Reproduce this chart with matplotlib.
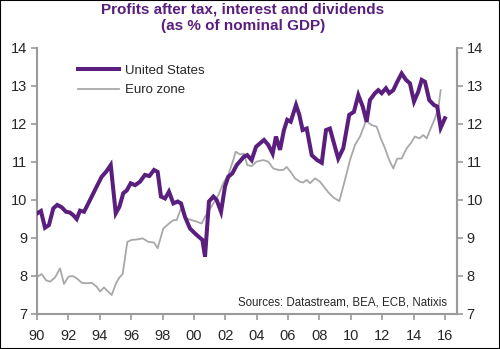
import matplotlib
matplotlib.use("Agg")
import matplotlib.pyplot as plt
from matplotlib.patches import Rectangle

plt.rcParams['font.family'] = ['Liberation Sans', 'DejaVu Sans']

# United States: profits after tax, interest and dividends (% of nominal GDP)
us_dates = [1990.02, 1990.25, 1990.51, 1990.76, 1991.04, 1991.29, 1991.57, 1991.85,
            1992.10, 1992.31, 1992.53, 1992.74, 1993.00, 1993.38, 1993.80, 1994.12,
            1994.40, 1994.70, 1995.02, 1995.25, 1995.50, 1995.72, 1995.97, 1996.25,
            1996.56, 1996.88, 1997.16, 1997.46, 1997.69, 1997.90, 1998.16, 1998.41,
            1998.69, 1998.97, 1999.18, 1999.43, 1999.75, 2000.07, 2000.34, 2000.54,
            2000.71, 2000.96, 2001.24, 2001.45, 2001.73, 2001.98, 2002.19, 2002.45,
            2002.73, 2002.94, 2003.19, 2003.40, 2003.68, 2003.96, 2004.21, 2004.47,
            2004.74, 2005.02, 2005.23, 2005.49, 2005.74, 2005.95, 2006.17, 2006.51,
            2006.72, 2006.93, 2007.19, 2007.51, 2007.86, 2008.15, 2008.42, 2008.67,
            2008.93, 2009.20, 2009.52, 2009.90, 2010.20, 2010.48, 2010.76, 2011.01,
            2011.22, 2011.54, 2011.75, 2011.97, 2012.24, 2012.45, 2012.71, 2012.96,
            2013.24, 2013.52, 2013.77, 2014.03, 2014.30, 2014.52, 2014.73, 2015.00,
            2015.30, 2015.51, 2015.73, 2016.00]
us_values = [9.65, 9.71, 9.27, 9.34, 9.78, 9.87, 9.81, 9.69,
             9.67, 9.60, 9.50, 9.72, 9.69, 10.00, 10.35, 10.61,
             10.74, 10.92, 9.65, 9.82, 10.18, 10.25, 10.44, 10.39,
             10.48, 10.66, 10.63, 10.79, 10.74, 10.09, 10.04, 10.22,
             9.91, 9.96, 9.91, 9.56, 9.25, 9.12, 9.02, 8.95,
             8.51, 9.96, 10.09, 10.00, 9.69, 10.35, 10.61, 10.70,
             10.92, 11.02, 11.14, 11.18, 11.05, 11.40, 11.49, 11.58,
             11.45, 11.22, 11.67, 11.32, 11.84, 12.11, 12.06, 12.50,
             12.24, 11.84, 11.88, 11.18, 11.05, 10.98, 11.84, 11.88,
             11.49, 11.09, 11.36, 12.24, 12.32, 12.76, 12.46, 12.06,
             12.63, 12.81, 12.89, 12.81, 12.94, 12.81, 12.89, 13.11,
             13.33, 13.16, 13.07, 12.59, 12.85, 13.16, 13.11, 12.63,
             12.50, 12.46, 11.90, 12.15]

# Euro zone
ez_dates = [1990.02, 1990.30, 1990.57, 1990.83, 1991.15, 1991.47, 1991.72, 1992.00,
            1992.28, 1992.53, 1992.85, 1993.17, 1993.49, 1993.80, 1994.02, 1994.27,
            1994.48, 1994.76, 1995.04, 1995.25, 1995.46, 1995.76, 1996.04, 1996.35,
            1996.74, 1997.09, 1997.46, 1997.69, 1998.05, 1998.41, 1998.69, 1998.90,
            1999.18, 1999.54, 1999.86, 2000.18, 2000.50, 2000.71, 2000.92, 2001.24,
            2001.56, 2001.87, 2002.19, 2002.51, 2002.66, 2002.94, 2003.19, 2003.40,
            2003.68, 2004.00, 2004.42, 2004.74, 2005.06, 2005.38, 2005.70, 2005.91,
            2006.17, 2006.44, 2006.76, 2006.97, 2007.19, 2007.40, 2007.72, 2008.04,
            2008.25, 2008.57, 2008.88, 2009.27, 2009.63, 2009.95, 2010.27, 2010.59,
            2010.97, 2011.33, 2011.65, 2011.91, 2012.18, 2012.45, 2012.71, 2012.96,
            2013.24, 2013.56, 2013.82, 2014.09, 2014.37, 2014.62, 2014.84, 2015.09,
            2015.37, 2015.58, 2015.73]
ez_values = [7.98, 8.05, 7.89, 7.85, 7.96, 8.20, 7.79, 7.98,
             8.00, 7.94, 7.82, 7.81, 7.82, 7.72, 7.59, 7.70,
             7.61, 7.50, 7.81, 7.96, 8.05, 8.90, 8.95, 8.96,
             8.99, 8.90, 8.88, 8.73, 9.25, 9.38, 9.47, 9.47,
             9.78, 9.51, 9.47, 9.43, 9.38, 9.56, 9.69, 9.91,
             10.13, 10.44, 10.66, 11.05, 11.27, 11.20, 11.22, 10.92,
             10.89, 11.01, 11.05, 11.01, 10.83, 10.79, 10.79, 10.87,
             10.74, 10.57, 10.48, 10.46, 10.53, 10.44, 10.57, 10.48,
             10.37, 10.20, 10.07, 9.97, 10.53, 11.05, 11.45, 11.67,
             12.08, 11.97, 11.93, 11.62, 11.36, 11.05, 10.83, 11.09,
             11.09, 11.36, 11.49, 11.67, 11.62, 11.71, 11.62, 11.88,
             12.15, 12.41, 12.89]

tick_years = list(range(1990, 2017, 2))
tick_labels = [f"{y % 100:02d}" for y in tick_years]
y_ticks = [7, 8, 9, 10, 11, 12, 13, 14]

purple = '#5a1f7e'
grey_line = '#a8a8a8'
spine_col = '#9a9a9a'
text_col = '#262626'

fig = plt.figure(figsize=(5.0, 3.49), dpi=100)
ax = fig.add_axes([0.074, 0.1003, 0.840, 0.7622])

ax.plot(ez_dates, ez_values, color=grey_line, lw=1.3, label='Euro zone', zorder=2)
ax.plot(us_dates, us_values, color=purple, lw=2.9, label='United States', zorder=3,
        solid_joinstyle='miter')

ax.set_xlim(1990, 2016.77)
ax.set_ylim(7, 14)
ax.set_xticks(tick_years)
ax.set_xticklabels(tick_labels)
ax.set_yticks(y_ticks)

ax.spines['top'].set_visible(False)
for s in ['left', 'bottom', 'right']:
    ax.spines[s].set_color(spine_col)
    ax.spines[s].set_linewidth(1.5)

ax.tick_params(axis='both', colors=spine_col, labelcolor=text_col, labelsize=10.5,
               length=4, width=1.2, direction='out')
ax.tick_params(axis='y', pad=3)
ax.tick_params(axis='x', pad=7)

ax2 = ax.twinx()
ax2.set_ylim(7, 14)
ax2.set_yticks(y_ticks)
for s in ['top', 'left', 'bottom']:
    ax2.spines[s].set_visible(False)
ax2.spines['right'].set_color(spine_col)
ax2.spines['right'].set_linewidth(1.5)
ax2.tick_params(axis='y', colors=spine_col, labelcolor=text_col, labelsize=10.5,
                length=4, width=1.2, direction='out', pad=3)

handles, labels = ax.get_legend_handles_labels()
leg = ax.legend(handles[::-1], labels[::-1], loc='upper left',
                bbox_to_anchor=(0.097, 0.937), frameon=False, fontsize=9.5,
                handlelength=3.1, handletextpad=0.45, labelspacing=0.55,
                borderpad=0, borderaxespad=0)
for t in leg.get_texts():
    t.set_color(text_col)

ax.text(0.977, 0.022, 'Sources: Datastream, BEA, ECB, Natixis', transform=ax.transAxes,
        ha='right', va='bottom', fontsize=8.3, color=text_col)

fig.text(0.486, 0.992, 'Profits after tax, interest and dividends\n(as % of nominal GDP)',
         ha='center', va='top', fontsize=11, fontweight='bold', color=purple,
         linespacing=1.2)

fig.patches.append(Rectangle((0, 0), 1, 1, transform=fig.transFigure, fill=False,
                             edgecolor='black', linewidth=1.5, zorder=10))

fig.savefig('out.png', dpi=100)
